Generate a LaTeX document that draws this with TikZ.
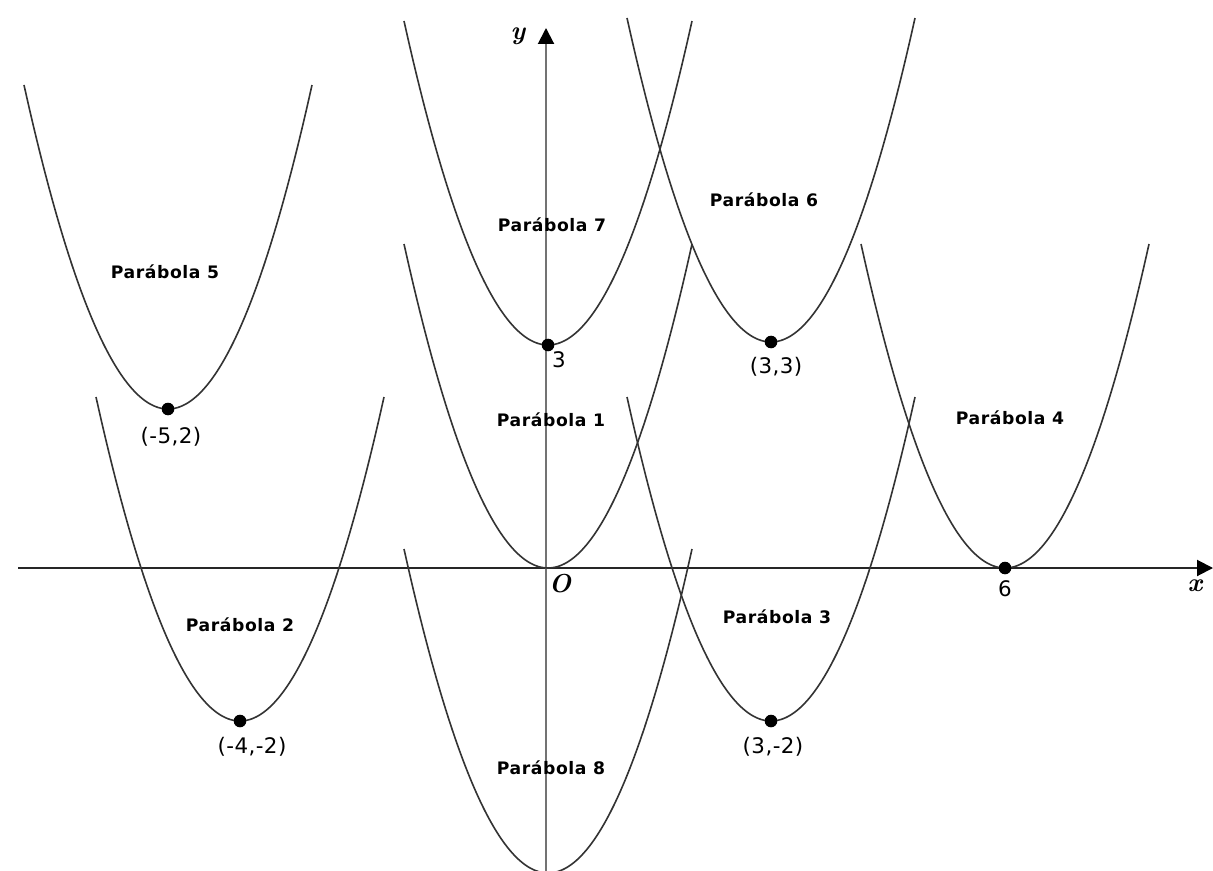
\documentclass[tikz,border=0pt]{standalone}
\usepackage{fontspec}
\newfontfamily\coordfont{DejaVu Sans}[LetterSpace=2]
\newfontfamily\parfont{DejaVu Sans}[LetterSpace=3.5]
\usetikzlibrary{arrows.meta}
\newcommand\drawparab[2]{\draw[parab] plot[domain=-144:144,samples=61,smooth] ({#1+\x},{#2-324*(\x/144)^2});}
\begin{document}
\begin{tikzpicture}[x=0.5pt,y=-0.5pt,
  parab/.style={draw=black!80,line width=0.8pt},
  xaxis/.style={draw=black!85,line width=1pt,-{Triangle[length=8pt,width=8pt,black]}},
  yaxis/.style={draw=black!55,line width=1pt,-{Triangle[length=8pt,width=8pt,black]}},
  vdot/.style={circle,fill=black,inner sep=0pt,minimum size=6.3pt},
  plabel/.style={font=\parfont\bfseries\fontsize{8.6}{10}\selectfont,inner sep=0pt},
  clabel/.style={font=\coordfont\fontsize{10.7}{12}\selectfont,inner sep=0pt},
  alabel/.style={font=\fontsize{13}{15}\selectfont\bfseries\itshape,inner sep=0pt}]
\useasboundingbox[fill=white] (0,0) rectangle (1213,871);
% axes
\coordinate (xs) at (18,568);
\coordinate (xe) at (1213,568);
\coordinate (ys) at (546,875);
\coordinate (ye) at (546,28);
\draw[xaxis] (xs) -- (xe);
\draw[yaxis] (ys) -- (ye);
% parabolas
\drawparab{548}{568}
\drawparab{240}{721}
\drawparab{771}{721}
\drawparab{1005}{568}
\drawparab{168}{409}
\drawparab{771}{342}
\drawparab{548}{345}
\drawparab{548}{873}
% vertex dots
\node[vdot] (v5) at (168,409) {};
\node[vdot] (v7) at (548,345) {};
\node[vdot] (v6) at (771,342) {};
\node[vdot] (v4) at (1005,568) {};
\node[vdot] (v2) at (240,721) {};
\node[vdot] (v3) at (771,721) {};
% parabola labels
\node[plabel] (p1) at (551,420) {Parábola 1};
\node[plabel] (p2) at (240,625) {Parábola 2};
\node[plabel] (p3) at (777,617) {Parábola 3};
\node[plabel] (p4) at (1010,418) {Parábola 4};
\node[plabel] (p5) at (165,272) {Parábola 5};
\node[plabel] (p6) at (764,200) {Parábola 6};
\node[plabel] (p7) at (552,225) {Parábola 7};
\node[plabel] (p8) at (551,768) {Parábola 8};
% coordinate labels
\node[clabel] (c5) at (171,437) {(-5,2)};
\node[clabel] (c7) at (559,360) {3};
\node[clabel] (c6) at (776,367) {(3,3)};
\node[clabel] (c4) at (1005,589) {6};
\node[clabel] (c2) at (252,747) {(-4,-2)};
\node[clabel] (c3) at (773,747) {(3,-2)};
% axis labels
\node[alabel] (lx) at (1195,586) {x};
\node[alabel] (ly) at (518,36) {y};
\node[alabel] (lo) at (560,584) {O};
\end{tikzpicture}
\end{document}
